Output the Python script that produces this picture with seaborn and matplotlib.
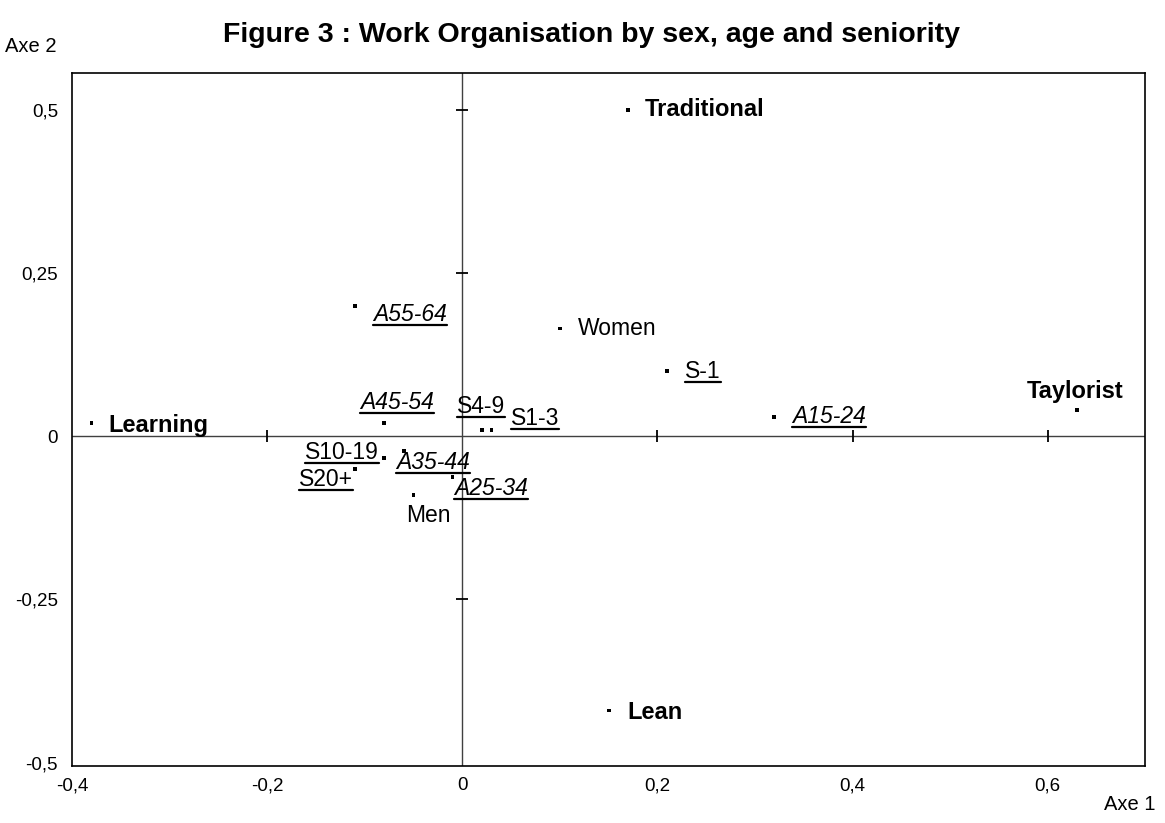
import matplotlib
matplotlib.use("Agg")
import matplotlib.pyplot as plt
from matplotlib.lines import Line2D
import seaborn as sns
import pandas as pd

names = ["Traditional", "Taylorist", "Learning", "Lean",
         "Women", "Men",
         "S-1", "S1-3", "S4-9", "S10-19", "S20+",
         "A15-24", "A25-34", "A35-44", "A45-54", "A55-64"]
axe1 = [0.17, 0.63, -0.38, 0.15,
        0.10, -0.05,
        0.21, 0.03, 0.02, -0.08, -0.11,
        0.32, -0.01, -0.06, -0.08, -0.11]
axe2 = [0.50, 0.04, 0.02, -0.42,
        0.165, -0.09,
        0.10, 0.01, 0.01, -0.033, -0.05,
        0.03, -0.062, -0.022, 0.02, 0.20]
kind = ["org", "org", "org", "org",
        "sex", "sex",
        "sen", "sen", "sen", "sen", "sen",
        "age", "age", "age", "age", "age"]

x_ticks = [-0.4, -0.2, 0, 0.2, 0.4, 0.6]
x_tick_labels = ["-0,4", "-0,2", "0", "0,2", "0,4", "0,6"]
y_ticks = [-0.5, -0.25, 0, 0.25, 0.5]
y_tick_labels = ["-0,5", "-0,25", "0", "0,25", "0,5"]

df = pd.DataFrame({"name": names, "x": axe1, "y": axe2, "kind": kind})

# label placement: offset in pixels from the dot, horizontal alignment
place = {
    "Traditional": (17, 0, "left"),
    "Taylorist": (-2, 19, "center"),
    "Learning": (17, -2, "left"),
    "Lean": (19, -2, "left"),
    "Women": (18, 0, "left"),
    "Men": (15, -20, "center"),
    "S-1": (18, -1, "left"),
    "S1-3": (19, 11, "left"),
    "S4-9": (-1, 23, "center"),
    "S10-19": (-5, 5, "right"),
    "S20+": (-2, -11, "right"),
    "A15-24": (18, 0, "left"),
    "A25-34": (2, -12, "left"),
    "A35-44": (-8, -12, "left"),
    "A45-54": (13, 21, "center"),
    "A55-64": (18, -9, "left"),
}

sns.set_style("white")
plt.rcParams["font.family"] = ["Liberation Sans", "DejaVu Sans"]
plt.rcParams["text.color"] = "black"

fig = plt.figure(figsize=(11.65, 8.23), dpi=100)
ax = fig.add_axes([0.0618, 0.0693, 0.9212, 0.8417])

ax.axhline(0, color="#404040", lw=1, zorder=1)
ax.axvline(0, color="#404040", lw=1, zorder=1)
ax.plot([t for t in x_ticks if t != 0 and t > -0.4], [0] * 4, ls="none",
        marker="|", ms=8, mew=1.3, color="black")
ax.plot([0, 0, 0], [-0.25, 0.25, 0.5], ls="none",
        marker="_", ms=8, mew=1.3, color="black")

sns.scatterplot(data=df, x="x", y="y", color="black", marker="s", s=8,
                edgecolor="none", ax=ax, zorder=3)

ax.set_xlim(-0.4, 0.7)
ax.set_ylim(-0.505, 0.556)
ax.set_xticks(x_ticks)
ax.set_xticklabels(x_tick_labels)
ax.set_yticks(y_ticks)
ax.set_yticklabels(y_tick_labels)
ax.tick_params(length=0, labelsize=13.5, colors="black")
ax.tick_params(axis="x", pad=8)
ax.tick_params(axis="y", pad=10)
ax.set_xlabel("")
ax.set_ylabel("")
for s in ax.spines.values():
    s.set_color("black")
    s.set_linewidth(1.2)

texts = []
for _, r in df.iterrows():
    dx, dy, ha = place[r["name"]]
    bold = r["kind"] == "org"
    style = "italic" if r["kind"] == "age" else "normal"
    t = ax.annotate(r["name"], (r["x"], r["y"]), xytext=(dx, dy),
                    textcoords="offset pixels", ha=ha, va="center",
                    fontsize=17 if bold else 16.5,
                    fontweight="bold" if bold else "normal",
                    fontstyle=style, color="black")
    texts.append((t, r["kind"]))

fig.text(0.508, 0.958, "Figure 3 : Work Organisation by sex, age and seniority",
         ha="center", va="center", fontsize=20.5, fontweight="bold", color="black")
fig.text(0.004, 0.944, "Axe 2", ha="left", va="center", fontsize=14.5, color="black")
fig.text(0.992, 0.022, "Axe 1", ha="right", va="center", fontsize=14.5, color="black")

# underline seniority and age labels
fig.canvas.draw()
renderer = fig.canvas.get_renderer()
inv = fig.transFigure.inverted()
for t, k in texts:
    if k in ("sen", "age"):
        bb = t.get_window_extent(renderer)
        (x0, y0), (x1, _) = inv.transform([(bb.x0, bb.y0 + 1), (bb.x1, bb.y0 + 1)])
        fig.add_artist(Line2D([x0, x1], [y0, y0], color="black", lw=1.6,
                              transform=fig.transFigure))

fig.savefig("out.png", dpi=100)
